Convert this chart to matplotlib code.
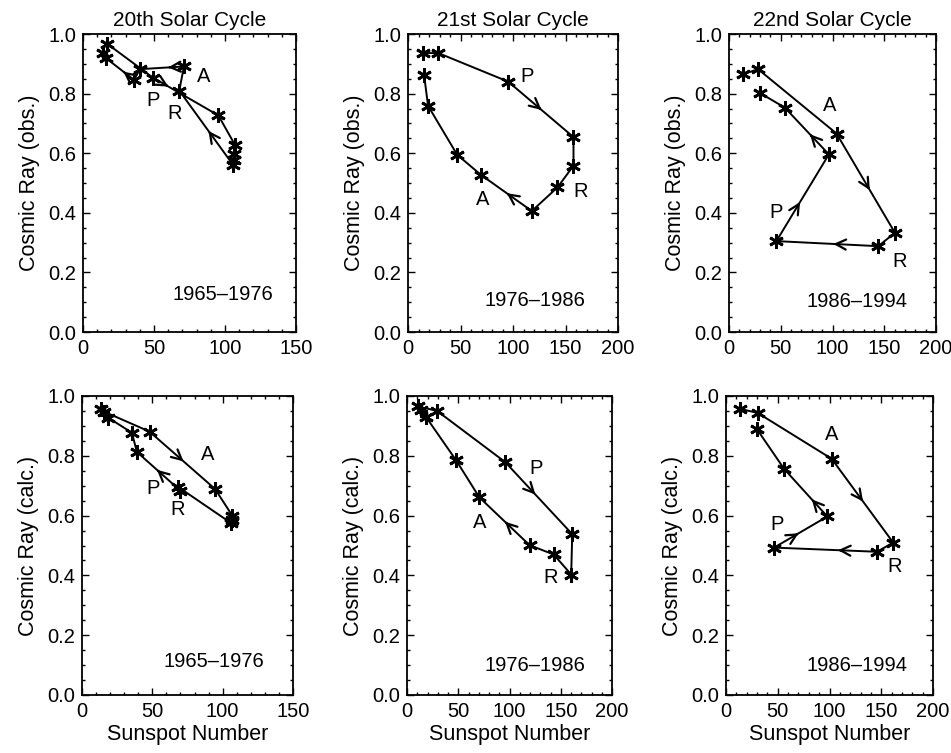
import matplotlib
matplotlib.use('Agg')
import matplotlib.pyplot as plt
from matplotlib.ticker import MultipleLocator

plt.rcParams['font.family'] = ['Liberation Sans', 'DejaVu Sans']

# Yearly sunspot number vs. cosmic ray intensity
ssn20_obs = [17.1, 49.1, 95.3, 107.0, 106.3, 106.0, 105.8, 67.8, 71.1, 40.1, 35.9, 16.2, 14.3]
cr20_obs = [0.967, 0.854, 0.727, 0.628, 0.598, 0.578, 0.560, 0.810, 0.891, 0.882, 0.846, 0.919, 0.936]

ssn21_obs = [14.6, 28.9, 95.5, 157.6, 157.6, 142.3, 117.9, 69.2, 46.8, 19.1, 15.3]
cr21_obs = [0.936, 0.936, 0.840, 0.654, 0.558, 0.485, 0.406, 0.528, 0.595, 0.759, 0.863]

ssn22_obs = [13.5, 28.1, 103.9, 160.3, 144.2, 45.8, 96.5, 53.9, 30.4]
cr22_obs = [0.865, 0.882, 0.666, 0.333, 0.288, 0.305, 0.596, 0.753, 0.801]

ssn20_calc = [15.5, 48.0, 94.6, 106.8, 106.4, 106.0, 68.6, 70.0, 39.0, 35.5, 18.5, 13.5]
cr20_calc = [0.948, 0.881, 0.689, 0.600, 0.585, 0.575, 0.695, 0.683, 0.813, 0.877, 0.928, 0.958]

ssn21_calc = [10.8, 29.4, 95.8, 161.2, 160.2, 143.1, 119.6, 70.6, 47.9, 18.3, 14.1]
cr21_calc = [0.965, 0.950, 0.779, 0.538, 0.403, 0.470, 0.501, 0.661, 0.785, 0.931, 0.953]

ssn22_calc = [13.8, 30.8, 102.1, 161.5, 146.1, 46.5, 97.9, 56.2, 29.9]
cr22_calc = [0.957, 0.943, 0.790, 0.510, 0.479, 0.493, 0.597, 0.756, 0.889]

titles = ['20th Solar Cycle', '21st Solar Cycle', '22nd Solar Cycle']
periods = ['1965\u20131976', '1976\u20131986', '1986\u20131994']
x_max = [150, 200, 200]

# arrows: (segment index, fraction along segment)
arrows = [
    [(1, 0.24), (6, 0.46), (8, 0.36), (10, 0.38)],
    [(2, 0.51), (6, 0.49)],
    [(2, 0.57), (4, 0.44), (5, 0.45), (6, 0.43)],
    [(1, 0.52), (7, 0.54)],
    [(2, 0.45), (6, 0.49)],
    [(2, 0.51), (4, 0.38), (5, 0.46), (6, 0.36)],
]

# phase labels and period text positions (data coords)
letters = [
    {'A': (84.7, 0.857), 'P': (49.5, 0.778), 'R': (64.8, 0.733)},
    {'P': (113, 0.857), 'R': (164, 0.471), 'A': (70.8, 0.446)},
    {'A': (97.4, 0.761), 'P': (45.8, 0.401), 'R': (164.5, 0.238)},
    {'A': (89.4, 0.804), 'P': (50.4, 0.690), 'R': (67.9, 0.622)},
    {'P': (126.2, 0.757), 'A': (70.6, 0.577), 'R': (139.9, 0.392)},
    {'A': (102.1, 0.872), 'P': (49.1, 0.569), 'R': (163.1, 0.430)},
]
period_pos = [(98.4, 0.125), (121, 0.106), (123.4, 0.102),
              (93.4, 0.111), (125.2, 0.100), (126.2, 0.098)]

# axes boxes in pixels: left, right, top, bottom
W, H = 951, 753
boxes = [(83, 296, 34, 332), (408, 618, 34, 332), (729, 936, 34, 332),
         (82, 293, 396, 695), (407, 612, 396, 695), (726, 933, 396, 695)]


def draw_arrow(ax, xs, ys, i, frac):
    x0, y0, x1, y1 = xs[i], ys[i], xs[i + 1], ys[i + 1]
    xa, ya = x0 + frac * (x1 - x0), y0 + frac * (y1 - y0)
    xb, yb = x0 + (frac - 0.03) * (x1 - x0), y0 + (frac - 0.03) * (y1 - y0)
    ax.annotate('', xy=(xa, ya), xytext=(xb, yb),
                arrowprops=dict(arrowstyle='->', color='black', lw=1.6,
                                mutation_scale=18, shrinkA=0, shrinkB=0))


def make_plot():
    fig = plt.figure(figsize=(W / 100, H / 100), dpi=100)

    data = [(ssn20_obs, cr20_obs), (ssn21_obs, cr21_obs), (ssn22_obs, cr22_obs),
            (ssn20_calc, cr20_calc), (ssn21_calc, cr21_calc), (ssn22_calc, cr22_calc)]

    for k, (xs, ys) in enumerate(data):
        l, r, t, b = boxes[k]
        ax = fig.add_axes([l / W, 1 - b / H, (r - l) / W, (b - t) / H])
        col = k % 3

        ax.plot(xs, ys, color='black', lw=1.4, marker=(6, 2, 0),
                markersize=10.5, markeredgewidth=2.0)
        for i, frac in arrows[k]:
            draw_arrow(ax, xs, ys, i, frac)

        for name, (tx, ty) in letters[k].items():
            ax.text(tx, ty, name, fontsize=14.5, ha='center', va='center')
        ax.text(period_pos[k][0], period_pos[k][1], periods[col],
                fontsize=14.5, ha='center', va='center')

        ax.set_xlim(0, x_max[col])
        ax.set_ylim(0, 1.0)
        ax.xaxis.set_major_locator(MultipleLocator(50))
        ax.xaxis.set_minor_locator(MultipleLocator(10))
        ax.yaxis.set_major_locator(MultipleLocator(0.2))
        ax.yaxis.set_minor_locator(MultipleLocator(0.05))
        ax.yaxis.set_major_formatter(plt.FormatStrFormatter('%.1f'))
        ax.tick_params(which='both', direction='in', top=True, right=True,
                       labelsize=14.5, width=1.0)
        ax.tick_params(which='major', length=5, pad=5)
        ax.tick_params(which='minor', length=2.5)
        for s in ax.spines.values():
            s.set_linewidth(1.3)

        if k < 3:
            ax.set_title(titles[col], fontsize=15, pad=6)
            ax.set_ylabel('Cosmic Ray (obs.)', fontsize=15.5, labelpad=6)
        else:
            ax.set_ylabel('Cosmic Ray (calc.)', fontsize=15.5, labelpad=6)
            ax.set_xlabel('Sunspot Number', fontsize=15.5, labelpad=2)

    plt.savefig('out.png', dpi=100)


if __name__ == "__main__":
    make_plot()
